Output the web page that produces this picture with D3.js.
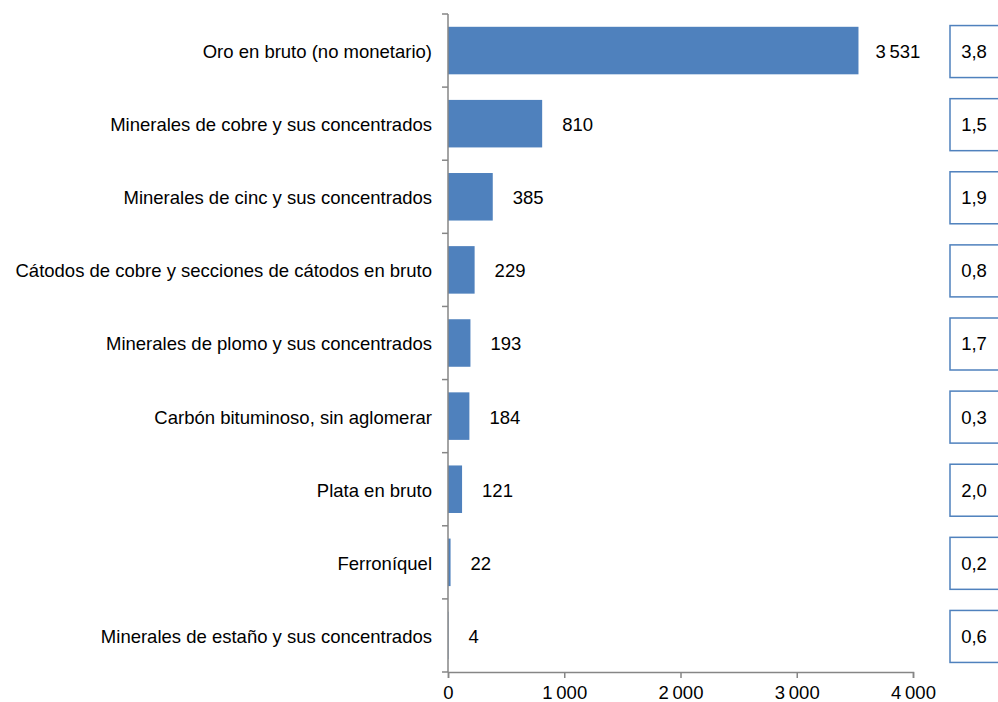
<!DOCTYPE html>
<html><head><meta charset="utf-8">
<script src="https://cdn.jsdelivr.net/npm/d3@7"></script>
<style>body{margin:0;background:#fff;} svg{display:block;font-family:"Liberation Sans",Arial,sans-serif;}</style>
</head><body>
<svg id="c" width="998" height="702"></svg>
<script>
const categories = [
  "Oro en bruto (no monetario)",
  "Minerales de cobre y sus concentrados",
  "Minerales de cinc y sus concentrados",
  "Cátodos de cobre y secciones de cátodos en bruto",
  "Minerales de plomo y sus concentrados",
  "Carbón bituminoso, sin aglomerar",
  "Plata en bruto",
  "Ferroníquel",
  "Minerales de estaño y sus concentrados"
];
const values = [3531, 810, 385, 229, 193, 184, 121, 22, 4];
const boxValues = ["3,8", "1,5", "1,9", "0,8", "1,7", "0,3", "2,0", "0,2", "0,6"];
const xTicks = [0, 1000, 2000, 3000, 4000];

(function () {
const svg = d3.select("#c");
const mLeft = 448, mRight = 913, mTop = 14, mBottom = 672;
const fs = 18.5;
const x = d3.scaleLinear().domain([0, 4000]).range([mLeft, mRight]);
const y = d3.scaleBand().domain(categories).range([mTop, mBottom]).paddingInner(0.35).paddingOuter(0.175);
const yb = d3.scaleBand().domain(categories).range([mTop, mBottom]);
const fmt = v => d3.format(",")(v).replace(/,/g, "\u2009");
const axisColor = "#868686";

// bars
svg.selectAll("rect.bar").data(values).join("rect").attr("class", "bar")
  .attr("x", x(0)).attr("y", (d, i) => y(categories[i]))
  .attr("width", d => x(d) - x(0)).attr("height", y.bandwidth())
  .attr("fill", "#4F81BD");

// value labels
svg.selectAll("text.val").data(values).join("text").attr("class", "val")
  .attr("x", (d, i) => x(d) + (i === 0 ? 17 : 20)).attr("y", (d, i) => y(categories[i]) + y.bandwidth() / 2 + 1)
  .attr("dy", "0.35em").attr("font-size", fs).attr("fill", "#000")
  .text(d => fmt(d));

// y axis
const gy = svg.append("g");
gy.append("line").attr("x1", mLeft).attr("x2", mLeft).attr("y1", mTop).attr("y2", mBottom).attr("stroke", axisColor).attr("stroke-width", 1.5);
const yt = yb.domain().map(c => yb(c)).concat([mBottom]);
gy.selectAll("line.t").data(yt).join("line").attr("class", "t")
  .attr("x1", mLeft - 6).attr("x2", mLeft).attr("y1", d => d).attr("y2", d => d)
  .attr("stroke", axisColor).attr("stroke-width", 1.5);
gy.selectAll("text.cat").data(categories).join("text").attr("class", "cat")
  .attr("x", mLeft - 16).attr("y", c => yb(c) + yb.bandwidth() / 2 + 1).attr("dy", "0.35em")
  .attr("text-anchor", "end").attr("font-size", fs).attr("fill", "#000").text(c => c);

// x axis
const xAxis = d3.axisBottom(x).tickValues(xTicks).tickSize(6).tickPadding(8).tickFormat(fmt);
const gx = svg.append("g").attr("transform", `translate(0,${mBottom})`).call(xAxis);
gx.select(".domain").attr("stroke", axisColor).attr("stroke-width", 1.5);
gx.selectAll(".tick line").attr("stroke", axisColor).attr("stroke-width", 1.5);
gx.selectAll(".tick text").attr("font-size", fs).attr("fill", "#000").attr("font-family", "Liberation Sans, Arial, sans-serif");

// right boxes
const bh = 52;
const bg = svg.selectAll("g.box").data(boxValues).join("g").attr("class", "box")
  .attr("transform", (d, i) => `translate(950,${yb(categories[i]) + yb.bandwidth() / 2 - bh / 2 + 1})`);
bg.append("rect").attr("width", 60).attr("height", bh).attr("fill", "#fff").attr("stroke", "#4F81BD").attr("stroke-width", 1.5);
bg.append("text").attr("x", 24).attr("y", bh / 2).attr("dy", "0.35em").attr("text-anchor", "middle")
  .attr("font-size", fs).attr("fill", "#000").text(d => d);
})();
</script>
</body></html>
